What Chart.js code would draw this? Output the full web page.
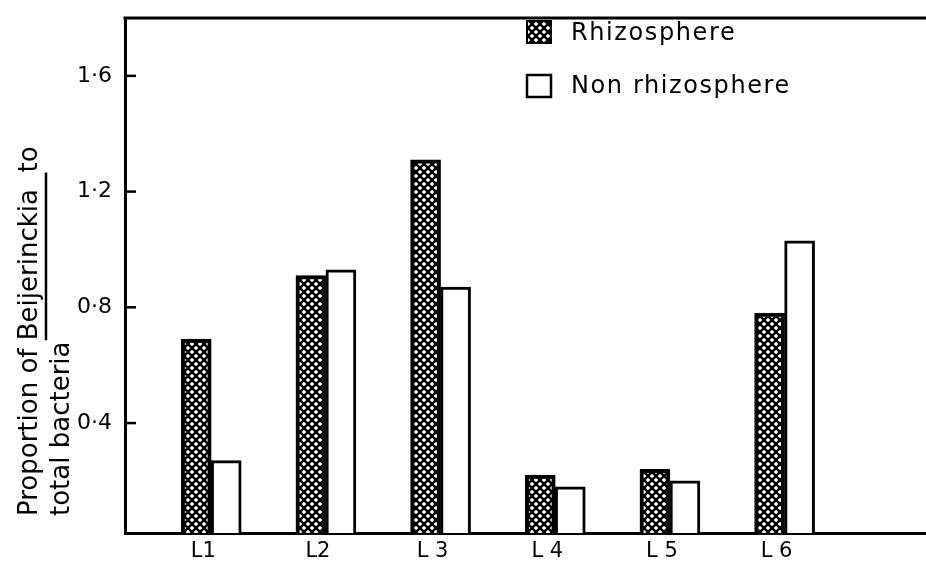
<!DOCTYPE html>
<html>
<head>
<meta charset="utf-8">
<script src="https://cdn.jsdelivr.net/npm/chart.js@4/dist/chart.umd.min.js"></script>
<style>
  body { margin: 0; background: #fff; }
</style>
</head>
<body>
<canvas id="beijChart" width="926" height="564"></canvas>
<script>
const categories = ['L1', 'L2', 'L 3', 'L 4', 'L 5', 'L 6'];
const rhizosphere = [0.69, 0.91, 1.31, 0.22, 0.24, 0.78];
const nonRhizosphere = [0.27, 0.93, 0.87, 0.18, 0.20, 1.03];
const yTicks = [0.4, 0.8, 1.2, 1.6];

const FONT = "'DejaVu Sans', sans-serif";

// cross hatch fill: diagonal black lattice with white diamond holes
function makeHatch() {
    const c = document.createElement('canvas');
    c.width = 8;
    c.height = 8;
    const g = c.getContext('2d');
    g.fillStyle = '#000';
    g.fillRect(0, 0, 8, 8);
    g.fillStyle = '#fff';
    const h = 2.35;
    [[4, 4], [0, 0], [8, 0], [0, 8], [8, 8]].forEach(([cx, cy]) => {
        g.beginPath();
        g.moveTo(cx, cy - h);
        g.lineTo(cx + h, cy);
        g.lineTo(cx, cy + h);
        g.lineTo(cx - h, cy);
        g.closePath();
        g.fill();
    });
    return g.createPattern(c, 'repeat');
}
const hatch = makeHatch();

const extras = {
    id: 'extras',
    afterDraw(chart) {
        const ctx = chart.ctx;
        const area = chart.chartArea;
        const y = chart.scales.y;
        ctx.save();
        ctx.strokeStyle = '#000';
        ctx.fillStyle = '#000';

        // top frame line
        ctx.lineWidth = 3;
        ctx.beginPath();
        ctx.moveTo(area.left - 1.5, area.top);
        ctx.lineTo(area.right, area.top);
        ctx.stroke();

        // inward tick marks
        ctx.lineWidth = 2.5;
        y.ticks.forEach(t => {
            const py = y.getPixelForValue(t.value);
            ctx.beginPath();
            ctx.moveTo(area.left, py);
            ctx.lineTo(area.left + 11, py);
            ctx.stroke();
        });

        // legend
        const ds = chart.data.datasets;
        ctx.font = '24px ' + FONT;
        ctx.letterSpacing = '1.6px';
        ctx.textBaseline = 'middle';
        ctx.textAlign = 'left';
        ctx.fillStyle = hatch;
        ctx.fillRect(527, 21, 24, 22);
        ctx.lineWidth = 2;
        ctx.strokeRect(527, 21, 24, 22);
        ctx.fillStyle = '#000';
        ctx.fillText(ds[0].label, 571, 34);
        ctx.fillStyle = '#fff';
        ctx.fillRect(527, 75, 24, 22);
        ctx.lineWidth = 2.5;
        ctx.strokeRect(527, 75, 24, 22);
        ctx.fillStyle = '#000';
        ctx.fillText(ds[1].label, 571, 87);

        // rotated y title with underlined genus name
        ctx.letterSpacing = '0px';
        ctx.font = '26px ' + FONT;
        ctx.translate(0, 516);
        ctx.rotate(-Math.PI / 2);
        const pre = 'Proportion of ';
        const genus = 'Beijerinckia';
        ctx.textBaseline = 'alphabetic';
        ctx.fillText(pre + genus + '  to', 0, 37);
        ctx.fillText('total bacteria', 0, 69);
        const x0 = ctx.measureText(pre).width;
        const x1 = x0 + ctx.measureText(genus + '  ').width;
        ctx.lineWidth = 2.5;
        ctx.beginPath();
        ctx.moveTo(x0, 46);
        ctx.lineTo(x1, 46);
        ctx.stroke();
        ctx.restore();
    }
};

const ctx = document.getElementById('beijChart').getContext('2d');
new Chart(ctx, {
    type: 'bar',
    data: {
        datasets: [{
            label: 'Rhizosphere',
            data: rhizosphere.map((v, i) => ({ x: i + 1, y: v })),
            backgroundColor: hatch,
            borderColor: '#000',
            borderWidth: 4
        }, {
            label: 'Non rhizosphere',
            data: nonRhizosphere.map((v, i) => ({ x: i + 1, y: v })),
            backgroundColor: '#fff',
            borderColor: '#000',
            borderWidth: 3
        }]
    },
    options: {
        responsive: false,
        animation: false,
        events: [],
        barThickness: 30,
        layout: { padding: { top: 18, right: 0, left: 0, bottom: 0 } },
        plugins: {
            legend: { display: false },
            tooltip: { enabled: false }
        },
        scales: {
            x: {
                type: 'linear',
                offset: false,
                min: 0.248,
                max: 7.233,
                afterBuildTicks: s => { s.ticks = categories.map((c, i) => ({ value: i + 1 })); },
                afterFit: s => { s.height = 31; s.paddingLeft = 0; s.paddingRight = 0; },
                grid: { display: false, drawTicks: false, offset: false },
                border: { display: true, color: '#000', width: 3 },
                ticks: {
                    autoSkip: false,
                    maxRotation: 0,
                    padding: 6,
                    labelOffset: -8,
                    color: '#000',
                    font: { family: FONT, size: 21 },
                    callback: v => categories[v - 1]
                }
            },
            y: {
                min: 0.02,
                max: 1.8,
                afterBuildTicks: s => { s.ticks = yTicks.map(v => ({ value: v })); },
                afterFit: s => { s.width = 125; s.paddingTop = 0; s.paddingBottom = 0; },
                grid: { display: false, drawTicks: false },
                border: { display: true, color: '#000', width: 3 },
                ticks: {
                    padding: 13,
                    color: '#000',
                    font: { family: FONT, size: 22 },
                    callback: v => v.toFixed(1).replace('.', '\u00b7')
                }
            }
        }
    },
    plugins: [extras]
});
</script>
</body>
</html>
